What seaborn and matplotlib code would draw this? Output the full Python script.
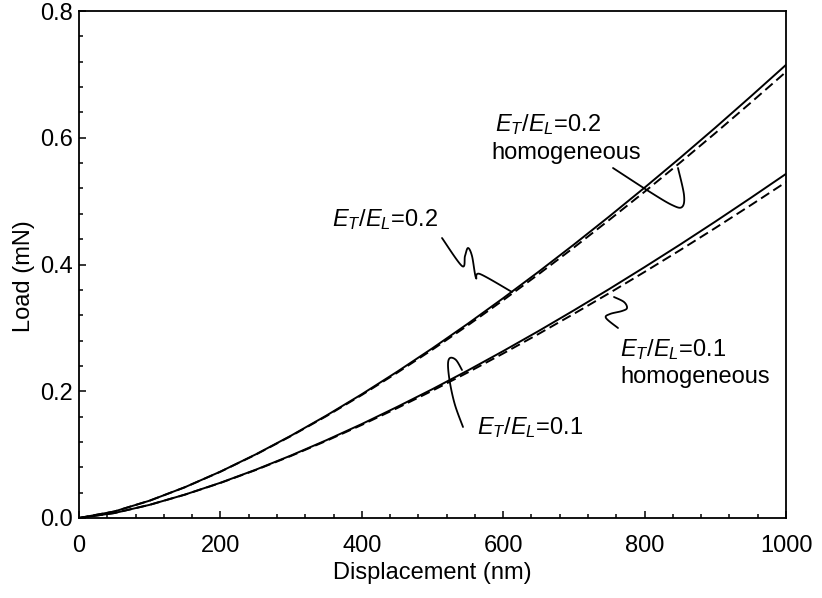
import numpy as np
import pandas as pd
import matplotlib
matplotlib.use("Agg")
import matplotlib.pyplot as plt
import matplotlib.transforms as mtransforms
from matplotlib.ticker import MultipleLocator
import seaborn as sns

# ---------------- data ----------------
displacement = [0, 50, 100, 150, 200, 250, 300, 350, 400, 450, 500,
                550, 600, 650, 700, 750, 800, 850, 900, 950, 1000]
load_02 = [0.0, 0.0103, 0.0274, 0.0487, 0.0732, 0.1004, 0.1300, 0.1617, 0.1953, 0.2308, 0.2679,
           0.3066, 0.3469, 0.3885, 0.4315, 0.4758, 0.5213, 0.5680, 0.6159, 0.6650, 0.7150]
load_02_hom = [0.0, 0.0103, 0.0274, 0.0486, 0.0730, 0.1000, 0.1294, 0.1608, 0.1941, 0.2292, 0.2658,
               0.3040, 0.3437, 0.3846, 0.4268, 0.4703, 0.5148, 0.5605, 0.6073, 0.6552, 0.7039]
load_01 = [0.0, 0.0078, 0.0208, 0.0370, 0.0556, 0.0762, 0.0987, 0.1228, 0.1483, 0.1753, 0.2034,
           0.2328, 0.2634, 0.2950, 0.3277, 0.3613, 0.3959, 0.4313, 0.4677, 0.5050, 0.5430]
load_01_hom = [0.0, 0.0078, 0.0208, 0.0369, 0.0553, 0.0757, 0.0980, 0.1218, 0.1469, 0.1734, 0.2010,
               0.2297, 0.2596, 0.2904, 0.3222, 0.3548, 0.3883, 0.4225, 0.4576, 0.4935, 0.5300]
x_ticks = [0, 200, 400, 600, 800, 1000]
y_ticks = [0.0, 0.2, 0.4, 0.6, 0.8]

sns.set_theme(style="ticks")
plt.rcParams['font.family'] = ['Liberation Sans', 'DejaVu Sans']
plt.rcParams['mathtext.fontset'] = 'custom'
plt.rcParams['mathtext.rm'] = 'Liberation Sans'
plt.rcParams['mathtext.it'] = 'Liberation Sans:italic'
plt.rcParams['mathtext.default'] = 'it'
plt.rcParams['text.color'] = 'black'
plt.rcParams['axes.labelcolor'] = 'black'
plt.rcParams['xtick.color'] = 'black'
plt.rcParams['ytick.color'] = 'black'

W, H = 822, 598
fig = plt.figure(figsize=(W / 100, H / 100), dpi=100)
ax = fig.add_axes([79 / W, (H - 518) / H, (786 - 79) / W, (518 - 11) / H])

df = pd.DataFrame({"d": displacement, "s02": load_02, "h02": load_02_hom,
                   "s01": load_01, "h01": load_01_hom})
lw = 1.4
sns.lineplot(data=df, x="d", y="s02", ax=ax, color="black", lw=lw)
sns.lineplot(data=df, x="d", y="h02", ax=ax, color="black", lw=lw, linestyle=(0, (5, 2.5)))
sns.lineplot(data=df, x="d", y="s01", ax=ax, color="black", lw=lw)
sns.lineplot(data=df, x="d", y="h01", ax=ax, color="black", lw=lw, linestyle=(0, (5, 2.5)))

ax.set_xlim(0, 1000)
ax.set_ylim(0, 0.8)
ax.set_xticks(x_ticks)
ax.set_xticklabels([str(v) for v in x_ticks])
ax.set_yticks(y_ticks)
ax.set_yticklabels([f"{v:.1f}" for v in y_ticks])
ax.xaxis.set_minor_locator(MultipleLocator(40))
ax.yaxis.set_minor_locator(MultipleLocator(0.04))
ax.tick_params(which='both', direction='in', top=False, right=False, colors='black',
               labelsize=17, width=1.1)
ax.tick_params(which='major', length=5)
ax.tick_params(axis='x', which='major', pad=12)
ax.tick_params(axis='y', which='major', pad=4.5)
ax.tick_params(which='minor', length=3)
for s in ax.spines.values():
    s.set_visible(True)
    s.set_linewidth(1.3)
    s.set_color('black')

ax.set_xlabel("Displacement (nm)", fontsize=17, labelpad=4, color='black')
ax.set_ylabel("Load (mN)", fontsize=17, color='black')
ax.yaxis.set_label_coords(-0.0622, 0.477)

# pixel (top-left origin) transform for annotations
pix = mtransforms.Affine2D().scale(1, -1).translate(0, H)


def catmull(pts, n=16):
    p = np.asarray(pts, float)
    p = np.vstack([p[0], p, p[-1]])
    out = []
    for i in range(1, len(p) - 2):
        p0, p1, p2, p3 = p[i - 1], p[i], p[i + 1], p[i + 2]
        t = np.linspace(0, 1, n)[:, None]
        seg = 0.5 * ((2 * p1) + (-p0 + p2) * t + (2 * p0 - 5 * p1 + 4 * p2 - p3) * t ** 2
                     + (-p0 + 3 * p1 - 3 * p2 + p3) * t ** 3)
        out.append(seg)
    return np.vstack(out)


leaders = [
    [(442, 238), (462, 266), (465, 256), (468, 248), (472, 256), (476, 278), (480, 274), (512, 292)],
    [(613, 168), (650, 192), (672, 205), (682, 207), (684, 195), (678, 168)],
    [(618, 328), (606, 318), (610, 314), (622, 311), (627, 308), (624, 302), (614, 297)],
    [(463, 427), (455, 405), (450, 383), (448, 365), (450, 358), (456, 360), (462, 370)],
]
for pts in leaders:
    c = catmull(pts)
    fig.lines.append(plt.Line2D(c[:, 0], c[:, 1], color='black', lw=1.3, transform=pix))

labels = [
    (332, 220, r"$E_T/E_L$=0.2"),
    (495, 125, r"$E_T/E_L$=0.2"),
    (491, 153, "homogeneous"),
    (620, 350, r"$E_T/E_L$=0.1"),
    (620, 377, "homogeneous"),
    (477, 428, r"$E_T/E_L$=0.1"),
]
for x, y, t in labels:
    fig.text(x, y, t, transform=pix, ha='left', va='center', fontsize=17, color='black')

fig.savefig("out.png", dpi=100)
